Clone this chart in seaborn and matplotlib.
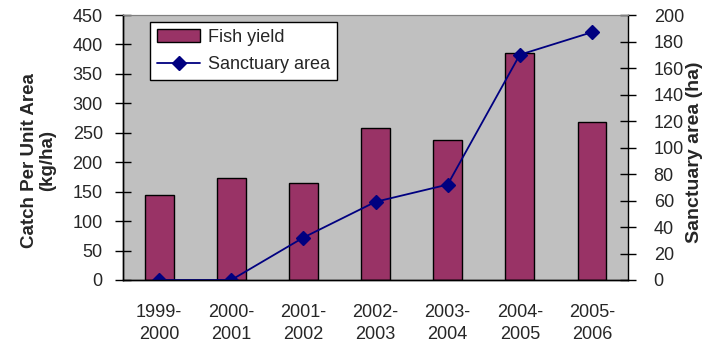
import matplotlib
matplotlib.use("Agg")
import matplotlib.pyplot as plt
import seaborn as sns
import pandas as pd
from matplotlib.lines import Line2D
from matplotlib.patches import Patch

seasons = ["1999-\n2000", "2000-\n2001", "2001-\n2002", "2002-\n2003",
           "2003-\n2004", "2004-\n2005", "2005-\n2006"]
fish_yield = [145, 174, 164, 258, 238, 386, 268]
sanctuary_area = [0, 0, 32, 59, 72, 170, 187]

bar_color = "#993366"
line_color = "#000080"

sns.set_style("white")
plt.rcParams["font.family"] = ["Liberation Sans", "DejaVu Sans"]
plt.rcParams["font.size"] = 13

df = pd.DataFrame({"season": seasons, "yield": fish_yield, "area": sanctuary_area})

fig = plt.figure(figsize=(7.05, 3.47), dpi=100)
ax = fig.add_axes([123 / 705, 1 - 280 / 347, (628 - 123) / 705, (280 - 15) / 347])
ax.set_facecolor("#C0C0C0")

sns.barplot(data=df, x="season", y="yield", ax=ax, color=bar_color,
            saturation=1, width=0.4, edgecolor="black", linewidth=1)
ax.set_xlim(-0.5, len(seasons) - 0.5)
ax.set_ylim(0, 450)
ax.set_yticks(range(0, 451, 50))
ax.set_xlabel("")
ax.set_ylabel("Catch Per Unit Area\n(kg/ha)", fontsize=13.5, fontweight="bold",
              linespacing=1.1)
ax.yaxis.set_label_coords(-0.133, 0.45)

# tick marks sit between categories; labels centred under each bar
ax.set_xticks([i - 0.5 for i in range(len(seasons) + 1)], minor=False)
ax.set_xticklabels([""] * (len(seasons) + 1))
ax.set_xticks(range(len(seasons)), minor=True)
ax.set_xticklabels(seasons, minor=True, fontsize=13, linespacing=1.45)
ax.tick_params(axis="x", which="major", direction="out", length=6, width=1, color="black")
ax.tick_params(axis="x", which="minor", length=0, pad=17)
ax.tick_params(axis="y", direction="inout", length=11, width=1, color="black",
               labelsize=13, pad=9)

ax2 = ax.twinx()
sns.pointplot(data=df, x="season", y="area", ax=ax2, color=line_color,
              markers="D", markersize=7, linewidth=1.3, errorbar=None)
ax2.set_xlim(-0.5, len(seasons) - 0.5)
ax2.set_ylim(0, 200)
ax2.set_yticks(range(0, 201, 20))
ax2.set_ylabel("Sanctuary area (ha)", fontsize=14, fontweight="bold")
ax2.yaxis.set_label_coords(1.115, 0.483)
ax2.tick_params(axis="y", direction="inout", length=11, width=1, color="black",
                labelsize=13, pad=13)

for a in (ax, ax2):
    for side in ("left", "bottom", "right"):
        a.spines[side].set_color("black")
        a.spines[side].set_linewidth(1)
    a.spines["top"].set_color("#808080")
    a.spines["top"].set_linewidth(0.8)
ax.spines["right"].set_visible(False)

handles = [Patch(facecolor=bar_color, edgecolor="black", linewidth=1),
           Line2D([0], [0], color=line_color, marker="D", markersize=7, linewidth=1.3)]
leg = ax2.legend(handles, ["Fish yield", "Sanctuary area"], loc="upper left",
                 bbox_to_anchor=(0.053, 0.974), frameon=True, fancybox=False,
                 fontsize=13, handlelength=2.4, handletextpad=0.4,
                 borderpad=0.4, labelspacing=0.55, borderaxespad=0)
leg.get_frame().set_edgecolor("black")
leg.get_frame().set_linewidth(1)
leg.get_frame().set_facecolor("white")
leg.get_frame().set_alpha(1)

fig.savefig("out.png", dpi=100)
